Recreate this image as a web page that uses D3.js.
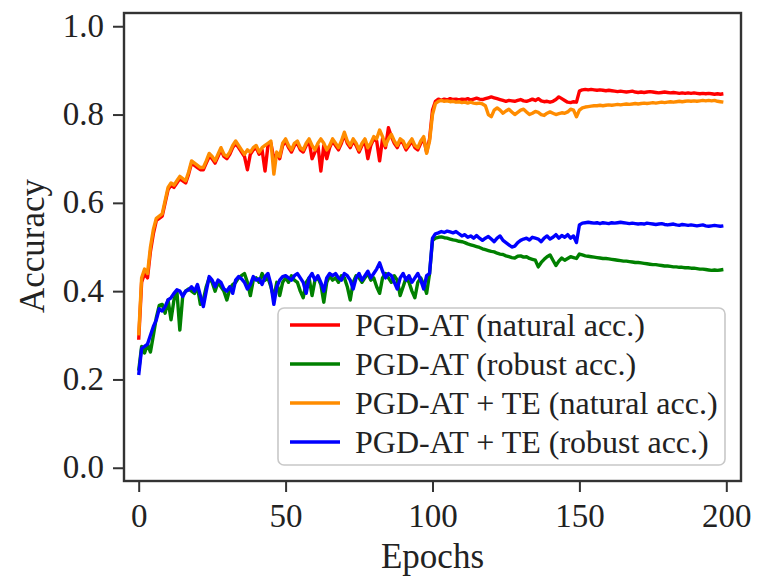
<!DOCTYPE html>
<html>
<head>
<meta charset="utf-8">
<script src="https://cdn.jsdelivr.net/npm/d3@7/dist/d3.min.js"></script>
<style>
  html, body { margin: 0; padding: 0; background: #fff; }
  svg { display: block; }
  text { font-family: "Liberation Serif", "Times New Roman", serif; fill: #222; }
</style>
</head>
<body>
<svg id="chart" width="758" height="579"></svg>
<script>
// Accuracy per epoch (epochs 0..199)
const pgdNatural = [
  0.29,0.42,0.44,0.43,0.49,0.53,0.56,0.565,0.57,0.60,
  0.63,0.64,0.635,0.645,0.655,0.65,0.645,0.665,0.69,0.685,
  0.68,0.675,0.675,0.69,0.705,0.70,0.69,0.705,0.72,0.705,
  0.70,0.71,0.725,0.735,0.725,0.715,0.705,0.675,0.71,0.72,
  0.725,0.71,0.72,0.672,0.73,0.735,0.70,0.71,0.70,0.73,
  0.74,0.725,0.715,0.73,0.735,0.72,0.715,0.73,0.74,0.70,
  0.715,0.73,0.672,0.73,0.70,0.725,0.74,0.73,0.72,0.735,
  0.755,0.735,0.725,0.74,0.73,0.715,0.73,0.74,0.70,0.73,
  0.745,0.74,0.695,0.745,0.725,0.77,0.75,0.735,0.725,0.74,
  0.735,0.72,0.73,0.74,0.725,0.72,0.735,0.745,0.715,0.745,
  0.81,0.83,0.835,0.832,0.835,0.833,0.836,0.834,0.835,0.833,
  0.835,0.834,0.836,0.833,0.835,0.837,0.835,0.834,0.836,0.838,
  0.84,0.838,0.836,0.834,0.832,0.83,0.832,0.831,0.83,0.832,
  0.834,0.831,0.83,0.832,0.835,0.832,0.836,0.831,0.829,0.83,
  0.828,0.83,0.834,0.84,0.836,0.832,0.828,0.827,0.829,0.828,
  0.853,0.856,0.857,0.856,0.857,0.856,0.855,0.856,0.855,0.854,
  0.855,0.854,0.853,0.852,0.853,0.852,0.851,0.852,0.853,0.851,
  0.85,0.851,0.85,0.851,0.852,0.851,0.85,0.849,0.85,0.851,
  0.85,0.849,0.85,0.849,0.848,0.849,0.848,0.849,0.848,0.849,
  0.848,0.847,0.848,0.847,0.848,0.847,0.846,0.847,0.846,0.847
];
const pgdRobust = [
  0.22,0.275,0.26,0.28,0.262,0.30,0.34,0.368,0.37,0.35,
  0.38,0.335,0.38,0.40,0.312,0.39,0.40,0.405,0.40,0.395,
  0.41,0.37,0.38,0.41,0.43,0.42,0.40,0.42,0.41,0.40,
  0.38,0.405,0.415,0.42,0.43,0.435,0.44,0.42,0.39,0.425,
  0.43,0.42,0.44,0.425,0.43,0.41,0.385,0.42,0.39,0.42,
  0.43,0.42,0.435,0.425,0.42,0.40,0.385,0.42,0.43,0.39,
  0.425,0.43,0.415,0.375,0.42,0.435,0.425,0.43,0.42,0.435,
  0.43,0.41,0.38,0.42,0.435,0.43,0.42,0.43,0.44,0.425,
  0.43,0.41,0.395,0.43,0.44,0.43,0.42,0.435,0.425,0.39,
  0.41,0.43,0.42,0.40,0.385,0.42,0.43,0.415,0.395,0.44,
  0.515,0.52,0.522,0.523,0.521,0.52,0.518,0.516,0.515,0.513,
  0.512,0.51,0.507,0.505,0.503,0.501,0.499,0.496,0.494,0.492,
  0.49,0.489,0.486,0.484,0.483,0.48,0.478,0.476,0.475,0.479,
  0.48,0.477,0.478,0.474,0.472,0.47,0.455,0.465,0.472,0.478,
  0.482,0.47,0.458,0.468,0.475,0.47,0.474,0.478,0.476,0.474,
  0.484,0.482,0.48,0.479,0.478,0.477,0.476,0.475,0.474,0.474,
  0.473,0.472,0.471,0.47,0.469,0.468,0.468,0.467,0.466,0.465,
  0.465,0.464,0.463,0.462,0.461,0.46,0.46,0.459,0.458,0.457,
  0.457,0.456,0.455,0.455,0.454,0.454,0.453,0.453,0.452,0.452,
  0.451,0.45,0.45,0.449,0.448,0.447,0.448,0.447,0.448,0.449
];
const teNatural = [
  0.30,0.43,0.45,0.44,0.50,0.54,0.565,0.57,0.575,0.605,
  0.635,0.645,0.64,0.65,0.66,0.655,0.65,0.67,0.695,0.69,
  0.685,0.68,0.68,0.695,0.712,0.705,0.695,0.71,0.725,0.71,
  0.705,0.715,0.73,0.74,0.73,0.72,0.71,0.72,0.715,0.725,
  0.73,0.715,0.725,0.73,0.735,0.74,0.665,0.715,0.705,0.735,
  0.745,0.73,0.72,0.735,0.74,0.725,0.72,0.735,0.745,0.73,
  0.72,0.735,0.745,0.735,0.72,0.73,0.745,0.735,0.725,0.74,
  0.76,0.74,0.73,0.745,0.735,0.72,0.735,0.745,0.725,0.735,
  0.75,0.745,0.765,0.75,0.73,0.745,0.755,0.74,0.73,0.745,
  0.74,0.725,0.735,0.745,0.73,0.725,0.74,0.75,0.712,0.74,
  0.80,0.825,0.83,0.832,0.83,0.831,0.829,0.83,0.828,0.829,
  0.827,0.828,0.826,0.828,0.826,0.825,0.826,0.824,0.82,0.80,
  0.795,0.81,0.815,0.81,0.803,0.808,0.812,0.806,0.80,0.805,
  0.81,0.812,0.806,0.80,0.803,0.807,0.805,0.80,0.798,0.803,
  0.806,0.803,0.80,0.802,0.804,0.803,0.806,0.812,0.81,0.795,
  0.81,0.815,0.817,0.818,0.819,0.82,0.82,0.821,0.82,0.821,
  0.822,0.821,0.822,0.823,0.822,0.823,0.824,0.823,0.824,0.825,
  0.824,0.825,0.826,0.825,0.826,0.827,0.826,0.827,0.828,0.827,
  0.828,0.829,0.828,0.829,0.83,0.829,0.83,0.831,0.83,0.831,
  0.83,0.831,0.832,0.831,0.832,0.831,0.832,0.83,0.829,0.828
];
const teRobust = [
  0.21,0.27,0.275,0.28,0.30,0.32,0.335,0.36,0.355,0.365,
  0.38,0.385,0.395,0.403,0.40,0.388,0.40,0.403,0.41,0.40,
  0.415,0.39,0.365,0.40,0.433,0.425,0.41,0.425,0.42,0.405,
  0.40,0.41,0.395,0.425,0.433,0.428,0.42,0.405,0.415,0.433,
  0.425,0.428,0.415,0.433,0.44,0.415,0.37,0.41,0.425,0.433,
  0.435,0.43,0.425,0.435,0.44,0.43,0.42,0.395,0.43,0.44,
  0.425,0.435,0.42,0.40,0.43,0.44,0.435,0.44,0.43,0.425,
  0.44,0.435,0.425,0.405,0.43,0.44,0.425,0.435,0.445,0.43,
  0.44,0.45,0.464,0.445,0.43,0.44,0.435,0.42,0.405,0.43,
  0.44,0.425,0.435,0.42,0.43,0.44,0.425,0.405,0.435,0.44,
  0.52,0.53,0.532,0.535,0.533,0.536,0.534,0.532,0.535,0.53,
  0.525,0.528,0.522,0.525,0.52,0.526,0.52,0.515,0.52,0.524,
  0.518,0.512,0.52,0.525,0.515,0.51,0.505,0.50,0.502,0.51,
  0.515,0.518,0.52,0.516,0.522,0.52,0.518,0.512,0.52,0.525,
  0.518,0.522,0.528,0.52,0.526,0.522,0.528,0.52,0.525,0.51,
  0.55,0.554,0.555,0.556,0.555,0.554,0.555,0.553,0.555,0.554,
  0.553,0.555,0.554,0.555,0.556,0.555,0.554,0.553,0.554,0.553,
  0.552,0.553,0.552,0.554,0.553,0.552,0.551,0.552,0.553,0.551,
  0.55,0.551,0.552,0.55,0.549,0.551,0.55,0.549,0.55,0.549,
  0.548,0.549,0.55,0.548,0.547,0.548,0.549,0.548,0.547,0.548
];

const seriesNames = [
  "PGD-AT (natural acc.)",
  "PGD-AT (robust acc.)",
  "PGD-AT + TE (natural acc.)",
  "PGD-AT + TE (robust acc.)"
];
const seriesColors = ["#ff0000", "#008000", "#ff8c00", "#0000ff"];
const xTicks = [0, 50, 100, 150, 200];
const yTicks = [0.0, 0.2, 0.4, 0.6, 0.8, 1.0];

const series = [pgdNatural, pgdRobust, teNatural, teRobust];

const svg = d3.select("#chart");
const plot = { left: 124, right: 741, top: 13, bottom: 481 };

const x = d3.scaleLinear().domain([-5, 205]).range([plot.left, plot.right]);
const y = d3.scaleLinear().domain([-0.03, 1.03]).range([plot.bottom, plot.top]);

// curves
const line = d3.line()
  .x((d, i) => x(i))
  .y(d => y(d));

svg.append("g")
  .selectAll("path")
  .data(series)
  .join("path")
  .attr("d", line)
  .attr("fill", "none")
  .attr("stroke", (d, i) => seriesColors[i])
  .attr("stroke-width", 3.4)
  .attr("stroke-linejoin", "round")
  .attr("stroke-linecap", "butt");

// axes
const axisColor = "#333";
const xAxis = svg.append("g")
  .attr("transform", `translate(0,${plot.bottom})`)
  .call(d3.axisBottom(x).tickValues(xTicks).tickSize(11).tickPadding(12).tickFormat(d3.format("d")));
const yAxis = svg.append("g")
  .attr("transform", `translate(${plot.left},0)`)
  .call(d3.axisLeft(y).tickValues(yTicks).tickSize(11).tickPadding(9).tickFormat(d3.format(".1f")));

[xAxis, yAxis].forEach(g => {
  g.select(".domain").remove();
  g.selectAll(".tick line").attr("stroke", axisColor).attr("stroke-width", 2);
  g.selectAll(".tick text")
    .attr("font-family", "Liberation Serif, serif")
    .attr("font-size", 33)
    .attr("fill", "#222");
});
yAxis.selectAll(".tick text").attr("dy", "0.3em");
xAxis.selectAll(".tick text").attr("dy", "0.71em");

// frame
svg.append("rect")
  .attr("x", plot.left).attr("y", plot.top)
  .attr("width", plot.right - plot.left).attr("height", plot.bottom - plot.top)
  .attr("fill", "none")
  .attr("stroke", axisColor)
  .attr("stroke-width", 2.4);

// axis titles
svg.append("text")
  .attr("x", (plot.left + plot.right) / 2)
  .attr("y", 568)
  .attr("text-anchor", "middle")
  .attr("font-size", 35)
  .text("Epochs");
svg.append("text")
  .attr("transform", `translate(44,246) rotate(-90)`)
  .attr("text-anchor", "middle")
  .attr("font-size", 35)
  .text("Accuracy");

// legend
const legend = svg.append("g");
legend.append("rect")
  .attr("x", 278).attr("y", 308)
  .attr("width", 447).attr("height", 157)
  .attr("rx", 6)
  .attr("fill", "#fff")
  .attr("fill-opacity", 0.85)
  .attr("stroke", "#c8c8c8")
  .attr("stroke-width", 1.6);
const rows = legend.selectAll("g.row")
  .data(seriesNames)
  .join("g")
  .attr("class", "row")
  .attr("transform", (d, i) => `translate(0,${325 + i * 39})`);
rows.append("line")
  .attr("x1", 290).attr("x2", 340)
  .attr("y1", 0).attr("y2", 0)
  .attr("stroke", (d, i) => seriesColors[i])
  .attr("stroke-width", 3.4);
rows.append("text")
  .attr("x", 355)
  .attr("y", 11)
  .attr("font-size", 32)
  .text(d => d);
</script>
</body>
</html>
